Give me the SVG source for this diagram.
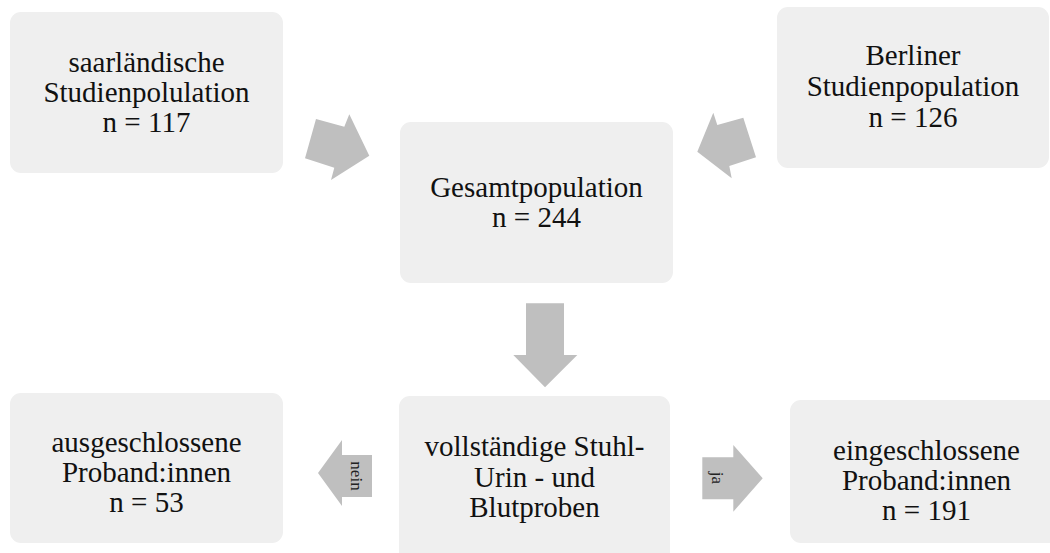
<svg xmlns="http://www.w3.org/2000/svg" width="1050" height="553" viewBox="0 0 1050 553">
<style>
.box{fill:#efefef;}
.arr{fill:#bfbfbf;}
.t{font-family:"Liberation Serif","Times New Roman",serif;font-size:29px;fill:#111;text-anchor:middle;}
.s{font-family:"Liberation Serif","Times New Roman",serif;font-size:17px;fill:#222;text-anchor:middle;}
</style>
<rect width="1050" height="553" fill="#ffffff"/>
<g id="connectors">
<polygon class="arr" points="305,158.3 316,119 344.3,126.7 349.3,114.3 369.3,155.7 331,180 334.3,167.7"/>
<polygon class="arr" points="713.3,112.7 717.3,125 743.3,117.7 756,157.3 729.3,166 731.7,178.3 697.3,151.7"/>
<polygon class="arr" points="526,303.3 564,303.3 564,355 577.3,355 545,387.3 513.3,355 526,355"/>
<polygon class="arr" points="372,455 342,455 342,440 318,473 342,506 342,497 372,497"/>
<text class="s" transform="translate(357,476) rotate(90)" dy="6">nein</text>
<polygon class="arr" points="702.3,457.3 733.3,457.3 733.3,445 762.7,478.3 733.3,511.7 733.3,499.3 702.3,499.3"/>
<text class="s" transform="translate(718,478) rotate(90)" dy="6">ja</text>
</g>
<g id="n1">
<rect class="box" x="10" y="12" width="273" height="161" rx="11"/>
<text class="t" x="146.5" y="72">saarländische</text>
<text class="t" x="146.5" y="102">Studienpolulation</text>
<text class="t" x="146.5" y="132">n = 117</text>
</g>
<g id="n2">
<rect class="box" x="777" y="7" width="272" height="161" rx="11"/>
<text class="t" x="913" y="65">Berliner</text>
<text class="t" x="913" y="96">Studienpopulation</text>
<text class="t" x="913" y="127">n = 126</text>
</g>
<g id="n3">
<rect class="box" x="400" y="122" width="273" height="161" rx="11"/>
<text class="t" x="536.5" y="197">Gesamtpopulation</text>
<text class="t" x="536.5" y="227">n = 244</text>
</g>
<g id="n4">
<rect class="box" x="10" y="393" width="273" height="150" rx="11"/>
<text class="t" x="146.5" y="451.5">ausgeschlossene</text>
<text class="t" x="146.5" y="481.5">Proband:innen</text>
<text class="t" x="146.5" y="511.5">n = 53</text>
</g>
<g id="n5">
<rect class="box" x="399" y="396" width="271" height="170" rx="11"/>
<text class="t" x="534.5" y="456">vollständige Stuhl-</text>
<text class="t" x="534.5" y="486.5">Urin - und</text>
<text class="t" x="534.5" y="516.5">Blutproben</text>
</g>
<g id="n6">
<rect class="box" x="790" y="400" width="280" height="143" rx="11"/>
<text class="t" x="926.5" y="460">eingeschlossene</text>
<text class="t" x="926.5" y="490">Proband:innen</text>
<text class="t" x="926.5" y="520">n = 191</text>
</g>
</svg>
